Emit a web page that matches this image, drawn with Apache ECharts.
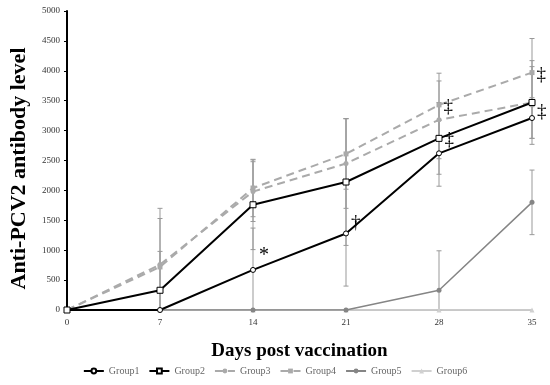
<!DOCTYPE html>
<html><head><meta charset="utf-8">
<script src="https://cdn.jsdelivr.net/npm/echarts@6/dist/echarts.min.js"></script>
<style>html,body{margin:0;padding:0;background:#fff}#c{width:550px;height:385px}</style>
</head><body><div id="c"></div>
<script>
var days = [0, 7, 14, 21, 28, 35];
var groupNames = ['Group1', 'Group2', 'Group3', 'Group4', 'Group5', 'Group6'];
var group1 = [0, 0, 670, 1280, 2620, 3210];
var group2 = [0, 330, 1760, 2140, 2870, 3470];
var group3 = [0, 760, 1980, 2450, 3180, 3470];
var group4 = [0, 720, 2040, 2610, 3430, 3970];
var group5 = [0, 0, 0, 0, 330, 1800];
var group6 = [0, 0, 0, 0, 0, 0];
var err1 = [0, 0, 700, 880, 550, 340];
var err2 = [0, 650, 750, 1060, 600, 600];
var err3 = [0, 940, 500, 750, 650, 700];
var err4 = [0, 810, 480, 590, 530, 570];
var err5 = [0, 0, 0, 0, 660, 540];
var err6 = [0, 0, 0, 0, 0, 0];
var marks1 = ['', '', '*', '\u2020', '', '\u2021'];
var marks2 = ['', '', '', '', '\u2021', ''];
var marks4 = ['', '', '', '', '\u2021', '\u2021'];

var serif = '"Liberation Serif", "DejaVu Serif", serif';
var values = [group1, group2, group3, group4, group5, group6];
var errs = [err1, err2, err3, err4, err5, err6];
var errData = [];
values.forEach(function (v, g) {
  v.forEach(function (y, i) {
    var e = errs[g][i];
    if (e > 0) errData.push([days[i], Math.max(0, y - e), y + e]);
  });
});
function pts(v, marks, offs) {
  return v.map(function (y, i) {
    var d = { value: [days[i], y] };
    if (marks && marks[i]) {
      d.label = { show: true, formatter: marks[i], position: 'right', offset: offs[i] || [0, 0],
        fontFamily: serif, fontSize: marks[i] === '*' ? 20 : 19, color: '#000', fontWeight: 'normal' };
    }
    return d;
  });
}
var chart = echarts.init(document.getElementById('c'));
var dashed = [8, 5];
chart.setOption({
  animation: false,
  grid: { left: 61, right: 18, top: 11, bottom: 75 },
  xAxis: {
    type: 'value', min: 0, max: 35, interval: 7,
    axisLine: { lineStyle: { color: '#aaa', width: 1.5 } },
    axisTick: { show: false },
    splitLine: { show: false },
    axisLabel: { fontFamily: serif, fontSize: 9, color: '#333', margin: 8 },
    name: 'Days post vaccination', nameLocation: 'middle', nameGap: 32,
    nameTextStyle: { fontFamily: serif, fontSize: 19, fontWeight: 'bold', color: '#000' }
  },
  yAxis: {
    type: 'value', min: 0, max: 5000, interval: 500,
    axisLine: { show: true, lineStyle: { color: '#000', width: 2 } },
    axisTick: { show: true, length: 3, lineStyle: { color: '#000' } },
    splitLine: { show: false },
    axisLabel: { fontFamily: serif, fontSize: 9, color: '#333', margin: 7, formatter: function (v) { return String(v); } },
    name: 'Anti-PCV2 antibody level', nameLocation: 'middle', nameGap: 37,
    nameTextStyle: { fontFamily: serif, fontSize: 22, fontWeight: 'bold', color: '#000', padding: [0, 16, 0, 0] }
  },
  legend: {
    bottom: 4, left: 'center', itemWidth: 20, itemHeight: 6, itemGap: 9,
    textStyle: { fontFamily: serif, fontSize: 10, color: '#666' },
    data: groupNames
  },
  series: [
    {
      type: 'custom', name: 'err', silent: true, z: 1,
      data: errData,
      renderItem: function (params, api) {
        var x = api.value(0);
        var lo = api.coord([x, api.value(1)]);
        var hi = api.coord([x, api.value(2)]);
        var w = 2.5;
        var st = { stroke: '#999', lineWidth: 1 };
        return { type: 'group', children: [
          { type: 'line', shape: { x1: lo[0], y1: lo[1], x2: hi[0], y2: hi[1] }, style: st },
          { type: 'line', shape: { x1: hi[0] - w, y1: hi[1], x2: hi[0] + w, y2: hi[1] }, style: st },
          { type: 'line', shape: { x1: lo[0] - w, y1: lo[1], x2: lo[0] + w, y2: lo[1] }, style: st }
        ]};
      }
    },
    { name: 'Group6', type: 'line', data: pts(group6), symbol: 'triangle', symbolSize: 5,
      lineStyle: { color: '#d0d0d0', width: 1.5 }, itemStyle: { color: '#d0d0d0' }, z: 2 },
    { name: 'Group5', type: 'line', data: pts(group5), symbol: 'circle', symbolSize: 5,
      lineStyle: { color: '#858585', width: 1.5 }, itemStyle: { color: '#858585' }, z: 3 },
    { name: 'Group3', type: 'line', data: pts(group3), symbol: 'circle', symbolSize: 5,
      lineStyle: { color: '#aaaaaa', width: 2, type: dashed }, itemStyle: { color: '#aaaaaa' }, z: 4 },
    { name: 'Group4', type: 'line', data: pts(group4, marks4, [null, null, null, null, [-3, 2], [-3, 2]]), symbol: 'rect', symbolSize: 5,
      lineStyle: { color: '#aaaaaa', width: 2, type: dashed }, itemStyle: { color: '#aaaaaa' }, z: 4 },
    { name: 'Group1', type: 'line', data: pts(group1, marks1, [null, null, [-2, -14], [-3, -10], null, [-3, -6]]), symbol: 'circle', symbolSize: 5,
      lineStyle: { color: '#000', width: 2 }, itemStyle: { color: '#fff', borderColor: '#000', borderWidth: 1 }, z: 5 },
    { name: 'Group2', type: 'line', data: pts(group2, marks2, [null, null, null, null, [-3, 2], null]), symbol: 'rect', symbolSize: 6,
      lineStyle: { color: '#000', width: 2 }, itemStyle: { color: '#fff', borderColor: '#000', borderWidth: 1 }, z: 5 }
  ]
});
</script></body></html>
